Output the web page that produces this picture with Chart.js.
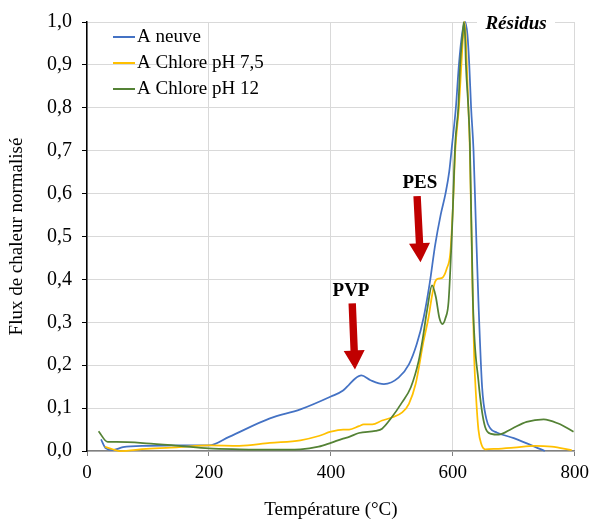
<!DOCTYPE html>
<html>
<head>
<meta charset="utf-8">
<script src="https://cdn.jsdelivr.net/npm/chart.js@4.4.1/dist/chart.umd.min.js"></script>
<style>
  html, body { margin: 0; padding: 0; background: #fff; }
  #wrap { width: 595px; height: 521px; }
</style>
</head>
<body>
<div id="wrap"><canvas id="dsc" width="595" height="521"></canvas></div>
<script>
// values (temperature in °C, normalised heat flux)
const labels = ['A neuve', 'A Chlore pH 7,5', 'A Chlore pH 12'];
const colors = ['#4472C4', '#FFC000', '#548235'];

const tempNeuve = [23, 31, 42, 59, 100, 150, 200, 233, 300, 350, 400, 420, 430, 440, 450, 465, 487, 511, 528, 541, 552, 562, 571, 580, 588, 594, 599, 605, 610, 615, 620, 624, 627, 630, 634, 638, 642, 648, 655, 662, 672, 700, 751];
const fluxNeuve = [0.027, 0.006, 0.002, 0.009, 0.012, 0.013, 0.013, 0.033, 0.076, 0.097, 0.127, 0.141, 0.155, 0.169, 0.176, 0.165, 0.156, 0.171, 0.202, 0.25, 0.31, 0.39, 0.48, 0.55, 0.60, 0.65, 0.717, 0.8, 0.9, 0.97, 1.0, 0.97, 0.9, 0.8, 0.7, 0.52, 0.35, 0.15, 0.075, 0.052, 0.043, 0.03, 0.0];

const temp75 = [29, 42, 53, 97, 151, 200, 250, 300, 350, 380, 400, 420, 430, 446, 454, 468, 484, 500, 517, 528, 539, 552, 560, 566, 571, 577, 583, 590, 596, 600, 604, 610, 614, 617, 619, 621, 623, 625, 628, 632, 635, 638, 642, 647, 653, 670, 700, 735, 762, 795];
const flux75 = [0.01, 0.004, 0.0, 0.005, 0.009, 0.013, 0.012, 0.019, 0.025, 0.035, 0.045, 0.05, 0.05, 0.058, 0.062, 0.062, 0.071, 0.078, 0.09, 0.11, 0.156, 0.256, 0.31, 0.363, 0.395, 0.402, 0.404, 0.425, 0.463, 0.563, 0.7, 0.8, 0.9, 0.97, 1.0, 0.97, 0.9, 0.82, 0.7, 0.4, 0.22, 0.13, 0.05, 0.015, 0.004, 0.005, 0.008, 0.012, 0.01, 0.002];

const temp12 = [19, 34, 48, 97, 151, 200, 250, 300, 350, 380, 400, 420, 430, 446, 473, 484, 498, 517, 531, 544, 550, 558, 566, 572, 578, 583, 588, 593, 599, 604, 609, 612, 616, 618, 620, 621.5, 625.5, 628, 633, 642, 653, 663, 675, 697, 721, 749, 773, 798];
const flux12 = [0.046, 0.021, 0.021, 0.018, 0.012, 0.006, 0.004, 0.003, 0.004, 0.01, 0.019, 0.029, 0.033, 0.042, 0.047, 0.052, 0.075, 0.114, 0.148, 0.21, 0.256, 0.33, 0.386, 0.36, 0.31, 0.296, 0.31, 0.348, 0.525, 0.717, 0.8, 0.9, 0.97, 1.0, 0.97, 0.9, 0.8, 0.717, 0.348, 0.164, 0.056, 0.04, 0.038, 0.052, 0.068, 0.074, 0.064, 0.045];

const xTicks = [0, 200, 400, 600, 800];

// annotations in data coordinates: [label, labelT, labelY, fromT, fromY, toT, toY]
const arrows = [
  ['PVP', 433, 0.373, 435, 0.344, 439.5, 0.19],
  ['PES', 546, 0.624, 541.4, 0.594, 547, 0.44]
];

const serif = "'Liberation Serif', 'Times New Roman', serif";

function pairs(xs, ys){
    return xs.map((x, i) => ({x: x, y: ys[i]}));
}

const series = [pairs(tempNeuve, fluxNeuve), pairs(temp75, flux75), pairs(temp12, flux12)];

const annotatePlugin = {
    id: 'annotate',
    afterDatasetsDraw(chart){
        const ctx = chart.ctx;
        const xs = chart.scales.x, ys = chart.scales.y;
        const area = chart.chartArea;
        ctx.save();

        //red arrows + labels
        arrows.forEach(function(a){
            const x0 = xs.getPixelForValue(a[3]), y0 = ys.getPixelForValue(a[4]);
            const x1 = xs.getPixelForValue(a[5]), y1 = ys.getPixelForValue(a[6]);
            const len = Math.hypot(x1 - x0, y1 - y0);
            const ux = (x1 - x0) / len, uy = (y1 - y0) / len;
            const nx = -uy, ny = ux;
            const head = 19, hw = 10.5, sw = 3.7;
            const bx = x1 - ux * head, by = y1 - uy * head;
            ctx.fillStyle = '#C00000';
            ctx.beginPath();
            ctx.moveTo(x0 + nx * sw, y0 + ny * sw);
            ctx.lineTo(bx + nx * sw, by + ny * sw);
            ctx.lineTo(bx + nx * hw, by + ny * hw);
            ctx.lineTo(x1, y1);
            ctx.lineTo(bx - nx * hw, by - ny * hw);
            ctx.lineTo(bx - nx * sw, by - ny * sw);
            ctx.lineTo(x0 - nx * sw, y0 - ny * sw);
            ctx.closePath();
            ctx.fill();

            ctx.fillStyle = '#000';
            ctx.font = 'bold 19px ' + serif;
            ctx.textAlign = 'center';
            ctx.textBaseline = 'middle';
            ctx.fillText(a[0], xs.getPixelForValue(a[1]), ys.getPixelForValue(a[2]));
        });

        //Résidus box on top edge
        const rx = xs.getPixelForValue(702);
        ctx.fillStyle = '#fff';
        ctx.fillRect(rx - 38, area.top - 2, 78, 20);
        ctx.fillStyle = '#000';
        ctx.font = 'italic bold 19px ' + serif;
        ctx.textAlign = 'center';
        ctx.textBaseline = 'middle';
        ctx.fillText('Résidus', rx + 1, area.top + 2);

        //legend inside the plot
        ctx.font = '19px ' + serif;
        ctx.textAlign = 'left';
        labels.forEach(function(name, i){
            const y = area.top + 15 + i * 26;
            ctx.strokeStyle = colors[i];
            ctx.lineWidth = 2;
            ctx.beginPath();
            ctx.moveTo(area.left + 26, y);
            ctx.lineTo(area.left + 48, y);
            ctx.stroke();
            ctx.fillStyle = '#000';
            ctx.fillText(name, area.left + 50, y);
        });
        ctx.restore();
    }
};

const ctx = document.getElementById('dsc').getContext('2d');
const chart = new Chart(ctx, {
    type: 'line',
    data: {
        datasets: series.map(function(pts, i){
            return {
                label: labels[i],
                data: pts,
                borderColor: colors[i],
                backgroundColor: colors[i],
                borderWidth: 1.75,
                pointRadius: 0,
                cubicInterpolationMode: 'monotone',
                fill: false,
                clip: 4,
                order: 3 - i
            };
        })
    },
    options: {
        responsive: false,
        animation: false,
        devicePixelRatio: 1,
        layout: { padding: { top: 17, right: 19, left: 0, bottom: 0 } },
        plugins: {
            legend: { display: false },
            tooltip: { enabled: false }
        },
        scales: {
            x: {
                type: 'linear',
                min: 0,
                max: 800,
                afterBuildTicks: function(scale){
                    scale.ticks = xTicks.map(v => ({value: v}));
                },
                afterFit: function(scale){ scale.height = 70; },
                grid: { color: '#d9d9d9', tickColor: '#808080', tickLength: 5, lineWidth: 1 },
                border: { color: '#808080', width: 1.5 },
                ticks: { color: '#000', padding: 6, font: { family: serif, size: 19 } },
                title: {
                    display: true,
                    text: 'Température (°C)',
                    color: '#000',
                    font: { family: serif, size: 19 },
                    padding: { top: 0, bottom: 0 }
                }
            },
            y: {
                min: 0,
                max: 1,
                afterFit: function(scale){ scale.width = 87; },
                grid: { color: '#d9d9d9', tickColor: '#000', tickLength: 5, lineWidth: 1 },
                border: { color: '#000', width: 1.5 },
                ticks: {
                    stepSize: 0.1,
                    color: '#000',
                    padding: 10,
                    font: { family: serif, size: 20 },
                    callback: function(v){ return v.toFixed(1).replace('.', ','); }
                },
                title: {
                    display: true,
                    text: 'Flux de chaleur normalisé',
                    color: '#000',
                    font: { family: serif, size: 19 },
                    padding: { top: 6, bottom: 0 }
                }
            }
        }
    },
    plugins: [annotatePlugin]
});
</script>
</body>
</html>
